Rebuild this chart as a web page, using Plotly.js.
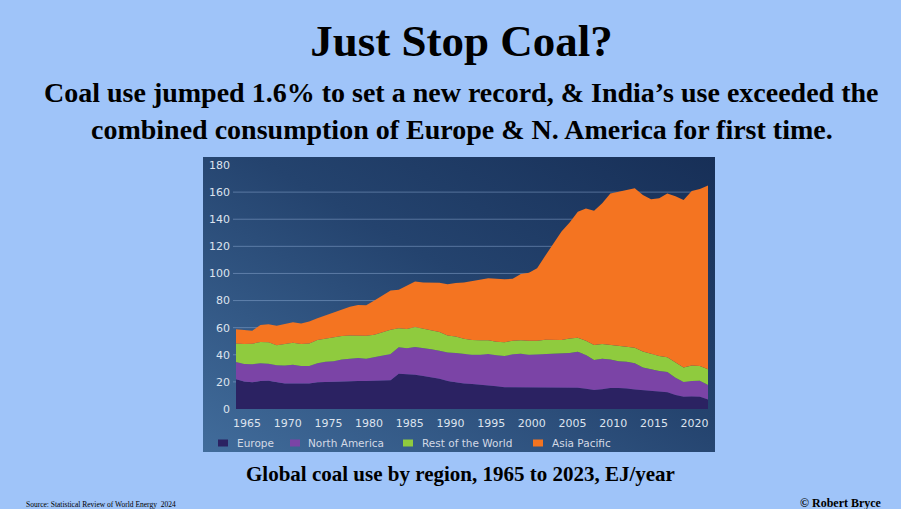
<!DOCTYPE html>
<html>
<head>
<meta charset="utf-8">
<script src="https://cdn.plot.ly/plotly-3.0.1.min.js"></script>
<style>
  html, body { margin: 0; padding: 0; background: #9fc4f9; }
  #chart { width: 901px; height: 509px; }
</style>
</head>
<body>
<div id="chart"></div>
<script>
// ---- Data (EJ/year) ----
const years = [];
for (let y = 1965; y <= 2023; y++) years.push(y);

const europe = [21.9,20.2,19.7,20.7,20.9,19.7,18.9,18.9,18.9,18.9,
                19.7,19.9,20.4,20.4,20.9,20.7,20.7,20.7,20.9,21.2,
                26.0,25.8,25.3,24.3,23.4,22.4,20.7,19.7,18.9,18.4,
                18.0,17.5,16.7,16.0,16.0,16.0,15.7,15.7,16.2,16.0,
                15.7,16.2,15.7,15.0,14.0,14.5,15.5,15.5,15.2,14.3,
                13.8,13.5,12.8,12.3,10.3,9.1,9.3,9.1,7.1];

const northAmerica = [12.8,13.0,13.3,13.0,12.5,12.5,13.1,13.8,12.8,12.8,
                      14.0,15.0,14.8,16.2,16.2,16.9,16.4,17.4,18.2,19.3,
                      19.5,19.0,20.4,20.7,20.6,20.6,20.9,21.6,21.7,21.7,
                      22.1,23.1,22.9,23.1,24.3,24.8,24.4,24.6,24.6,24.8,
                      25.1,25.1,26.6,24.8,22.1,22.6,21.1,19.7,19.7,19.4,
                      16.9,15.8,15.2,15.0,12.8,10.8,11.4,11.8,10.6];

const restOfWorld = [13.7,14.8,15.2,15.7,15.8,14.8,16.0,16.2,16.3,16.7,
                     17.2,17.0,17.4,17.3,17.2,16.5,17.0,16.7,17.7,18.0,
                     14.0,14.2,14.8,14.3,14.0,13.8,12.7,12.1,11.3,10.8,
                     10.6,10.1,10.1,10.1,10.1,9.9,10.3,10.1,10.3,10.3,
                     10.1,10.8,10.3,10.6,11.1,10.9,10.9,11.3,11.1,11.5,
                     11.8,11.5,11.1,10.8,11.1,10.8,11.3,10.8,11.6];

const asiaPacific = [10.4,10.3,9.6,12.6,13.3,14.5,15.0,15.1,15.0,16.1,
                     16.1,17.1,18.4,19.6,21.2,22.6,22.4,25.2,27.2,29.0,
                     28.5,32.0,33.5,34.1,35.2,36.4,37.7,39.6,41.5,43.5,
                     45.0,45.7,46.3,46.5,45.6,48.9,50.2,53.4,61.9,70.9,
                     80.1,85.4,93.0,97.6,99.1,103.7,111.5,113.8,115.5,117.6,
                     115.4,113.9,116.3,120.9,122.8,123.5,128.8,130.6,135.5];

const seriesNames = ["Europe", "North America", "Rest of the World", "Asia Pacific"];
const seriesColors = ["#2b2262", "#7b44a6", "#8fcb3e", "#f47421"];
const xTicks = [1965, 1970, 1975, 1980, 1985, 1990, 1995, 2000, 2005, 2010, 2015, 2020];
const yTicks = [0, 20, 40, 60, 80, 100, 120, 140, 160, 180];
const gridValues = [20, 40, 60, 80, 100, 120, 140, 160];

// ---- Traces (stacked areas) ----
const seriesValues = [europe, northAmerica, restOfWorld, asiaPacific];
const traces = seriesValues.map((vals, i) => ({
  type: "scatter",
  mode: "lines",
  x: years,
  y: vals,
  name: seriesNames[i],
  stackgroup: "one",
  line: { width: 0, color: seriesColors[i] },
  fillcolor: seriesColors[i],
  showlegend: false,
  hoverinfo: "skip"
}));

// ---- Geometry helpers (pixel -> paper) ----
const L = 236, R = 708, T = 165, B = 409;
const px = x => (x - L) / (R - L);
const py = y => (B - y) / (B - T);

const gradSvg = '<svg xmlns="http://www.w3.org/2000/svg" width="512" height="295">' +
  '<defs><linearGradient id="g" x1="0" y1="1" x2="1" y2="0">' +
  '<stop offset="0" stop-color="#416c9b"/><stop offset="0.55" stop-color="#24436e"/>' +
  '<stop offset="1" stop-color="#172f57"/></linearGradient></defs>' +
  '<rect width="512" height="295" fill="url(#g)"/></svg>';

const shapes = gridValues.map(v => ({
  type: "line", xref: "paper", yref: "y",
  x0: px(233), x1: px(705), y0: v, y1: v,
  line: { color: "rgba(150,180,220,0.45)", width: 1 },
  layer: "below"
}));

// legend (small squares + labels, placed like the reference)
const legendSquareLeft = [218, 290, 403, 533];
const legendTextLeft = [235, 306, 420, 550];
const legendFont = { family: "DejaVu Sans, Verdana, sans-serif", size: 10.5, color: "#d3d9e5" };
seriesNames.forEach((n, i) => {
  shapes.push({
    type: "rect", xref: "paper", yref: "paper",
    x0: px(legendSquareLeft[i]), x1: px(legendSquareLeft[i] + 10),
    y0: py(446.5), y1: py(439.5),
    fillcolor: seriesColors[i], line: { width: 0 }, layer: "above"
  });
});

const serif = "Liberation Serif, Times New Roman, serif";
const annotations = [
  { text: "<b>Coal use jumped 1.6% to set a new record, &amp; India’s use exceeded the</b>",
    xref: "paper", yref: "paper", x: px(461.5), y: py(93), xanchor: "center", yanchor: "middle",
    showarrow: false, font: { family: serif, size: 28, color: "#000" } },
  { text: "<b>combined consumption of Europe &amp; N. America for first time.</b>",
    xref: "paper", yref: "paper", x: px(461.5), y: py(129), xanchor: "center", yanchor: "middle",
    showarrow: false, font: { family: serif, size: 28, color: "#000" } },
  { text: "<b>Global coal use by region, 1965 to 2023, EJ/year</b>",
    xref: "paper", yref: "paper", x: px(460), y: py(474), xanchor: "center", yanchor: "middle",
    showarrow: false, font: { family: serif, size: 21, color: "#000" } },
  { text: "Source: Statistical Review of World Energy  2024",
    xref: "paper", yref: "paper", x: px(24), y: py(504), xanchor: "left", yanchor: "middle",
    showarrow: false, font: { family: serif, size: 7.5, color: "#000" } },
  { text: "<b>© Robert Bryce</b>",
    xref: "paper", yref: "paper", x: px(884), y: py(503), xanchor: "right", yanchor: "middle",
    showarrow: false, font: { family: serif, size: 12, color: "#000" } }
];
seriesNames.forEach((n, i) => {
  annotations.push({
    text: n, xref: "paper", yref: "paper",
    x: px(legendTextLeft[i]), y: py(443), xanchor: "left", yanchor: "middle",
    showarrow: false, font: legendFont
  });
});

const layout = {
  width: 901, height: 509,
  margin: { l: L, r: 901 - R, t: T, b: 509 - B, pad: 0 },
  paper_bgcolor: "#9fc4f9",
  plot_bgcolor: "rgba(0,0,0,0)",
  hovermode: false,
  showlegend: false,
  title: {
    text: "<b>Just Stop Coal?</b>",
    font: { family: serif, size: 45, color: "#000" },
    xref: "container", x: 461.5 / 901, xanchor: "center",
    yref: "container", y: 1 - 40 / 509, yanchor: "middle"
  },
  xaxis: {
    range: [1965, 2023], tickvals: xTicks, ticktext: xTicks.map(String),
    showgrid: false, zeroline: false, showline: false, ticks: "",
    ticklabelstandoff: 6, ticklabelshift: 11,
    tickfont: { family: "DejaVu Sans, Verdana, sans-serif", size: 11, color: "#dde3ee" },
    fixedrange: true
  },
  yaxis: {
    range: [0, 180], tickvals: yTicks, ticktext: yTicks.map(String),
    showgrid: false, zeroline: false, showline: false, ticks: "",
    ticklabelstandoff: 5,
    tickfont: { family: "DejaVu Sans, Verdana, sans-serif", size: 11, color: "#dde3ee" },
    fixedrange: true
  },
  images: [{
    source: "data:image/svg+xml;charset=utf-8," + encodeURIComponent(gradSvg),
    xref: "paper", yref: "paper",
    x: px(203), y: py(157), sizex: px(715) - px(203), sizey: py(157) - py(452),
    xanchor: "left", yanchor: "top", sizing: "stretch", layer: "below"
  }],
  shapes: shapes,
  annotations: annotations
};

Plotly.newPlot("chart", traces, layout, { displayModeBar: false, staticPlot: true });
</script>
</body>
</html>
